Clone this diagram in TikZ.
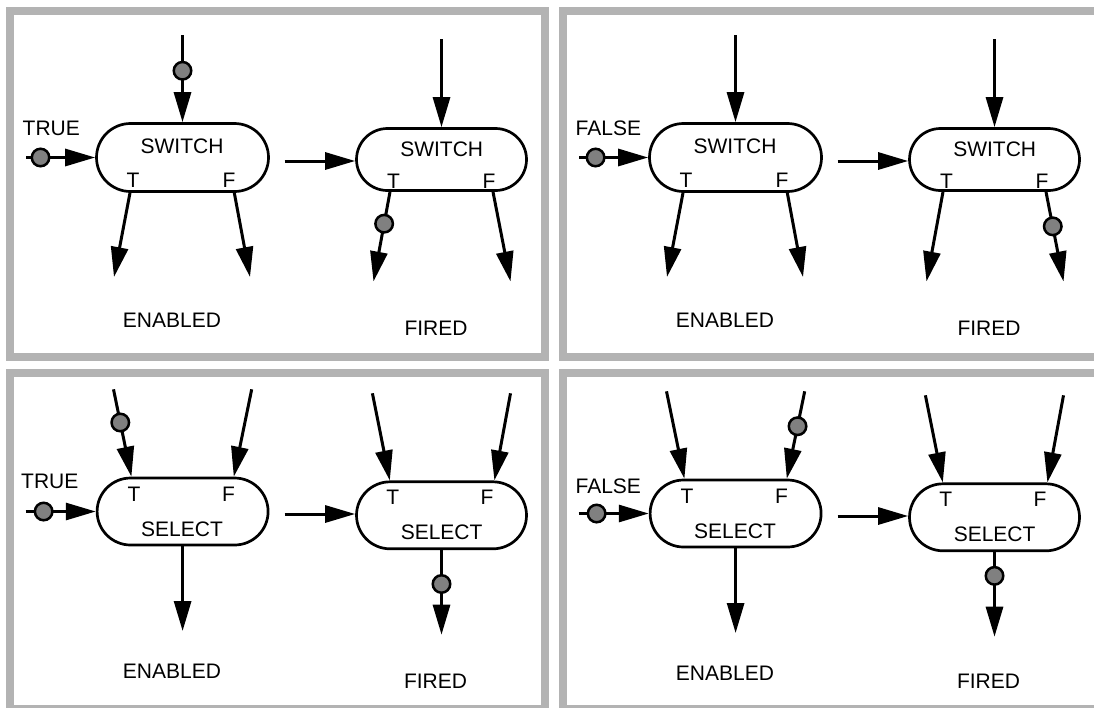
\documentclass[tikz,border=0pt]{standalone}
\usepackage{fontspec}
\setmainfont{Liberation Sans}
\usetikzlibrary{arrows.meta,shapes.misc,calc}

\definecolor{framegray}{HTML}{B3B3B3}
\definecolor{tokengray}{HTML}{808080}

\tikzset{
  panel/.style={draw=framegray, line width=8pt},
  actor/.style={draw, line width=2.7pt, rounded rectangle, inner sep=0pt, fill=white},
  lbl/.style={font=\fontsize{21}{25}\selectfont, inner sep=0pt},
  conn/.style={line width=3pt, -{Triangle[length=30pt,width=17pt]}},
  token/.style={circle, draw, line width=2.5pt, fill=tokengray, minimum size=17.5pt, inner sep=0pt},
}

\begin{document}
\begin{tikzpicture}[x=1pt,y=-1pt]
\useasboundingbox (0,0) rectangle (1094,707);
\clip (0,0) rectangle (1094,707);

% panel frames
\draw[panel] (10,11) rectangle (545,356.5);
\draw[panel] (563,11) rectangle (1120,356.5);
\draw[panel] (10,373) rectangle (545,709);
\draw[panel] (563,373) rectangle (1120,709);

% ---------- SWITCH, control TRUE ----------
\begin{scope}
  \node[actor, minimum width=172pt, minimum height=68pt] (a1) at (182.5,157.5) {};
  \node[actor, minimum width=170pt, minimum height=62pt] (a2) at (441.5,159.5) {};
  \node[lbl] (a1name) at (182,146) {SWITCH};
  \node[lbl] (a1T) at (133,180.5) {T};
  \node[lbl] (a1F) at (229,180.5) {F};
  \node[lbl] (a2name) at (441.7,149) {SWITCH};
  \node[lbl] (a2T) at (393.5,181) {T};
  \node[lbl] (a2F) at (489,181) {F};
  \node[lbl, anchor=west] (acond) at (22.5,128) {TRUE};
  \node[lbl] (aen) at (172,320.5) {ENABLED};
  \node[lbl] (afi) at (436,328) {FIRED};

  \coordinate (a0) at (26,157.5);
  \coordinate (a1in) at (182.5,35);
  \coordinate (a1t) at (114,277);
  \coordinate (a1f) at (250,277);
  \coordinate (am) at (284.5,161);
  \coordinate (a2in) at (441.5,39.3);
  \coordinate (a2t) at (373.5,281.5);
  \coordinate (a2f) at (510.5,281.5);

  \draw[conn] (a0) -- node[token, pos=0.21] (a0tk) {} (a1.west);
  \draw[conn] (a1in) -- node[token, pos=0.41] (a1tk) {} (a1.north);
  \draw[conn] ($(a1.south)+(-52.5,0)$) -- (a1t);
  \draw[conn] ($(a1.south)+(51.8,0)$) -- (a1f);
  \draw[conn] (am) -- (am -| a2.west);
  \draw[conn] (a2in) -- (a2.north);
  \draw[conn] ($(a2.south)+(-51.5,0)$) -- node[token, pos=0.355] (a2tk) {} (a2t);
  \draw[conn] ($(a2.south)+(51.5,0)$) -- (a2f);
\end{scope}

% ---------- SWITCH, control FALSE ----------
\begin{scope}[shift={(553,0)}]
  \node[actor, minimum width=172pt, minimum height=68pt] (b1) at (182.5,157.5) {};
  \node[actor, minimum width=170pt, minimum height=62pt] (b2) at (441.5,159.5) {};
  \node[lbl] (b1name) at (182,146) {SWITCH};
  \node[lbl] (b1T) at (133,180.5) {T};
  \node[lbl] (b1F) at (229,180.5) {F};
  \node[lbl] (b2name) at (441.7,149) {SWITCH};
  \node[lbl] (b2T) at (393.5,181) {T};
  \node[lbl] (b2F) at (489,181) {F};
  \node[lbl, anchor=west] (bcond) at (22.5,128) {FALSE};
  \node[lbl] (ben) at (172,320.5) {ENABLED};
  \node[lbl] (bfi) at (436,328) {FIRED};

  \coordinate (b0) at (26,157.5);
  \coordinate (b1in) at (182.5,35);
  \coordinate (b1t) at (114,277);
  \coordinate (b1f) at (250,277);
  \coordinate (bm) at (284.5,161);
  \coordinate (b2in) at (441.5,39.3);
  \coordinate (b2t) at (373.5,281.5);
  \coordinate (b2f) at (510.5,281.5);

  \draw[conn] (b0) -- node[token, pos=0.24] (b0tk) {} (b1.west);
  \draw[conn] (b1in) -- (b1.north);
  \draw[conn] ($(b1.south)+(-52.5,0)$) -- (b1t);
  \draw[conn] ($(b1.south)+(51.8,0)$) -- (b1f);
  \draw[conn] (bm) -- (bm -| b2.west);
  \draw[conn] (b2in) -- (b2.north);
  \draw[conn] ($(b2.south)+(-51.5,0)$) -- (b2t);
  \draw[conn] ($(b2.south)+(51.5,0)$) -- node[token, pos=0.385] (b2tk) {} (b2f);
\end{scope}

% ---------- SELECT, control TRUE ----------
\begin{scope}
  \node[actor, minimum width=171pt, minimum height=67pt] (c1) at (182.6,511.5) {};
  \node[actor, minimum width=170pt, minimum height=67pt] (c2) at (441.5,515.3) {};
  \node[lbl] (c1T) at (134,494) {T};
  \node[lbl] (c1F) at (228.5,494) {F};
  \node[lbl] (c1name) at (182,529) {SELECT};
  \node[lbl] (c2T) at (392.7,497) {T};
  \node[lbl] (c2F) at (487,497) {F};
  \node[lbl] (c2name) at (441.6,532.5) {SELECT};
  \node[lbl, anchor=west] (ccond) at (21,481) {TRUE};
  \node[lbl] (cen) at (172,671.5) {ENABLED};
  \node[lbl] (cfi) at (435.5,681.5) {FIRED};

  \coordinate (c0) at (25.7,511.5);
  \coordinate (c1tin) at (113.5,389.3);
  \coordinate (c1fin) at (251.7,389.3);
  \coordinate (c1out) at (182.6,631);
  \coordinate (cm) at (284.5,514);
  \coordinate (c2tin) at (372.4,393.3);
  \coordinate (c2fin) at (510.5,393.3);
  \coordinate (c2out) at (441.5,634.7);

  \draw[conn] (c0) -- node[token, pos=0.256] (c0tk) {} (c1.west);
  \draw[conn] (c1tin) -- node[token, pos=0.38] (c1tk) {} ($(c1.north)+(-51.2,0)$);
  \draw[conn] (c1fin) -- ($(c1.north)+(51.2,0)$);
  \draw[conn] (c1.south) -- (c1out);
  \draw[conn] (cm) -- (cm -| c2.west);
  \draw[conn] (c2tin) -- ($(c2.north)+(-51.7,0)$);
  \draw[conn] (c2fin) -- ($(c2.north)+(52.9,0)$);
  \draw[conn] (c2.south) -- node[token, pos=0.4] (c2tk) {} (c2out);
\end{scope}

% ---------- SELECT, control FALSE ----------
\begin{scope}[shift={(553,2)}]
  \node[actor, minimum width=171pt, minimum height=67pt] (d1) at (182.6,511.5) {};
  \node[actor, minimum width=170pt, minimum height=67pt] (d2) at (441.5,515.3) {};
  \node[lbl] (d1T) at (134,494) {T};
  \node[lbl] (d1F) at (228.5,494) {F};
  \node[lbl] (d1name) at (182,529) {SELECT};
  \node[lbl] (d2T) at (392.7,497) {T};
  \node[lbl] (d2F) at (487,497) {F};
  \node[lbl] (d2name) at (441.6,532.5) {SELECT};
  \node[lbl, anchor=west] (dcond) at (22.4,484) {FALSE};
  \node[lbl] (den) at (172,671.5) {ENABLED};
  \node[lbl] (dfi) at (435.5,679.5) {FIRED};

  \coordinate (d0) at (25.7,511.5);
  \coordinate (d1tin) at (113.5,389.3);
  \coordinate (d1fin) at (251.7,389.3);
  \coordinate (d1out) at (182.6,631);
  \coordinate (dm) at (284.5,514);
  \coordinate (d2tin) at (372.4,393.3);
  \coordinate (d2fin) at (510.5,393.3);
  \coordinate (d2out) at (441.5,634.7);

  \draw[conn] (d0) -- node[token, pos=0.256] (d0tk) {} (d1.west);
  \draw[conn] (d1tin) -- ($(d1.north)+(-51.2,0)$);
  \draw[conn] (d1fin) -- node[token, pos=0.4] (d1tk) {} ($(d1.north)+(51.2,0)$);
  \draw[conn] (d1.south) -- (d1out);
  \draw[conn] (dm) -- (dm -| d2.west);
  \draw[conn] (d2tin) -- ($(d2.north)+(-51.7,0)$);
  \draw[conn] (d2fin) -- ($(d2.north)+(52.9,0)$);
  \draw[conn] (d2.south) -- node[token, pos=0.28] (d2tk) {} (d2out);
\end{scope}
\end{tikzpicture}
\end{document}
